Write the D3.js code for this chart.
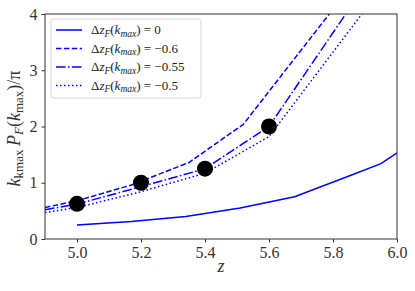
<!DOCTYPE html>
<html>
<head>
<meta charset="utf-8">
<script src="https://cdn.jsdelivr.net/npm/d3@7"></script>
<style>
  body { margin: 0; background: #fff; }
</style>
</head>
<body>
<div id="chart"></div>
<script>
// DATA

const zSolid = [5.0, 5.17, 5.34, 5.51, 5.68, 5.85, 5.95, 6.0];
const ySolid = [0.25, 0.31, 0.40, 0.55, 0.75, 1.12, 1.34, 1.53];

const zDashed = [4.9, 5.0, 5.17, 5.35, 5.52, 5.85];
const yDashed = [0.56, 0.68, 0.96, 1.36, 2.04, 4.45];

const zDashDot = [4.9, 5.0, 5.2, 5.4, 5.6, 5.9];
const yDashDot = [0.52, 0.62, 0.93, 1.25, 2.0, 4.5];

const zDotted = [4.9, 5.0, 5.2, 5.4, 5.6, 5.95];
const yDotted = [0.47, 0.56, 0.84, 1.17, 1.82, 4.45];

const zPoints = [5.0, 5.2, 5.4, 5.6];
const yPoints = [0.625, 1.0, 1.25, 2.0];

const xTicks = [5.0, 5.2, 5.4, 5.6, 5.8, 6.0];
const yTicks = [0, 1, 2, 3, 4];

const legendLabels = ["0", "\u22120.6", "\u22120.55", "\u22120.5"];
const legendDash = [null, "5.5,2.4", "9.6,2.4,1.5,2.4", "1.5,2.5"];

// SETUP

const setup = { width: 415, height: 291, left: 45, right: 397, top: 14, bottom: 239 };
const serif = '"Liberation Serif"';
const blue = "#0000ff";

const x = d3.scaleLinear().domain([4.9, 6.0]).range([setup.left, setup.right]);
const y = d3.scaleLinear().domain([0, 4]).range([setup.bottom, setup.top]);

const svg = d3.select("#chart")
    .append("svg")
    .attr("width", setup.width)
    .attr("height", setup.height);

svg.append("defs").append("clipPath").attr("id", "plot")
    .append("rect")
    .attr("x", setup.left).attr("y", setup.top)
    .attr("width", setup.right - setup.left)
    .attr("height", setup.bottom - setup.top);

// LINES

const line = d3.line().x(d => x(d[0])).y(d => y(d[1]));
const series = [
    [zSolid, ySolid],
    [zDashed, yDashed],
    [zDashDot, yDashDot],
    [zDotted, yDotted]
];

const plot = svg.append("g").attr("clip-path", "url(#plot)");

series.forEach((s, i) => {
    plot.append("path")
        .datum(d3.zip(s[0], s[1]))
        .attr("d", line)
        .attr("fill", "none")
        .attr("stroke", blue)
        .attr("stroke-width", 1.5)
        .attr("stroke-dasharray", legendDash[i]);
});

plot.selectAll("circle")
    .data(d3.zip(zPoints, yPoints))
    .join("circle")
    .attr("cx", d => x(d[0]))
    .attr("cy", d => y(d[1]))
    .attr("r", 8)
    .attr("fill", "#000");

// AXES

const xAxis = svg.append("g")
    .attr("transform", `translate(0,${setup.bottom})`)
    .call(d3.axisBottom(x).tickValues(xTicks).tickFormat(d3.format(".1f")).tickSize(3.5).tickPadding(4));

const yAxis = svg.append("g")
    .attr("transform", `translate(${setup.left},0)`)
    .call(d3.axisLeft(y).tickValues(yTicks).tickFormat(d3.format("d")).tickSize(3.5).tickPadding(4));

[xAxis, yAxis].forEach(a => {
    a.attr("font-family", null).attr("font-size", null);
    a.select(".domain").remove();
    a.selectAll("line").attr("stroke", "#333");
    a.selectAll("text")
        .style("font-family", serif)
        .style("font-size", "16px")
        .attr("fill", "#333");
});

svg.append("rect")
    .attr("x", setup.left).attr("y", setup.top)
    .attr("width", setup.right - setup.left)
    .attr("height", setup.bottom - setup.top)
    .attr("fill", "none")
    .attr("stroke", "#333")
    .attr("stroke-width", 1);

// AXIS LABELS

svg.append("text")
    .attr("x", (setup.left + setup.right) / 2)
    .attr("y", 272)
    .attr("text-anchor", "middle")
    .style("font-family", serif)
    .style("font-style", "italic")
    .style("font-size", "18px")
    .attr("fill", "#333")
    .text("z");

const ylab = svg.append("text")
    .attr("transform", `translate(20,${(setup.top + setup.bottom) / 2 + 2}) rotate(-90)`)
    .attr("text-anchor", "middle")
    .style("font-family", serif)
    .style("font-size", "18px")
    .attr("fill", "#333");
ylab.append("tspan").style("font-style", "italic").text("k");
ylab.append("tspan").attr("dy", 3).style("font-size", "13px").text("kmax");
ylab.append("tspan").attr("dy", -3).style("font-style", "italic").text("\u2009P");
ylab.append("tspan").attr("dy", 3).style("font-size", "13px").style("font-style", "italic").text("F");
ylab.append("tspan").attr("dy", -3).text("(");
ylab.append("tspan").style("font-style", "italic").text("k");
ylab.append("tspan").attr("dy", 3).style("font-size", "13px").text("max");
ylab.append("tspan").attr("dy", -3).text(")/\u03c0");

// LEGEND

const legend = svg.append("g");
legend.append("rect")
    .attr("x", 51).attr("y", 19)
    .attr("width", 150).attr("height", 79)
    .attr("rx", 3)
    .attr("fill", "#fff")
    .attr("fill-opacity", 0.8)
    .attr("stroke", "#d8d8d8");

legendLabels.forEach((lab, i) => {
    const yy = 30 + i * 18.5;
    legend.append("line")
        .attr("x1", 56).attr("x2", 82)
        .attr("y1", yy).attr("y2", yy)
        .attr("stroke", blue)
        .attr("stroke-width", 1.5)
        .attr("stroke-dasharray", legendDash[i]);
    const t = legend.append("text")
        .attr("x", 91).attr("y", yy + 4)
        .style("font-family", serif)
        .style("font-size", "13px")
        .attr("fill", "#222");
    t.append("tspan").text("\u0394");
    t.append("tspan").style("font-style", "italic").text("z");
    t.append("tspan").attr("dy", 2.5).style("font-size", "9.5px").style("font-style", "italic").text("F");
    t.append("tspan").attr("dy", -2.5).text("(");
    t.append("tspan").style("font-style", "italic").text("k");
    t.append("tspan").attr("dy", 2.5).style("font-size", "9.5px").style("font-style", "italic").text("max");
    t.append("tspan").attr("dy", -2.5).text(") = " + lab);
});
</script>
</body>
</html>
